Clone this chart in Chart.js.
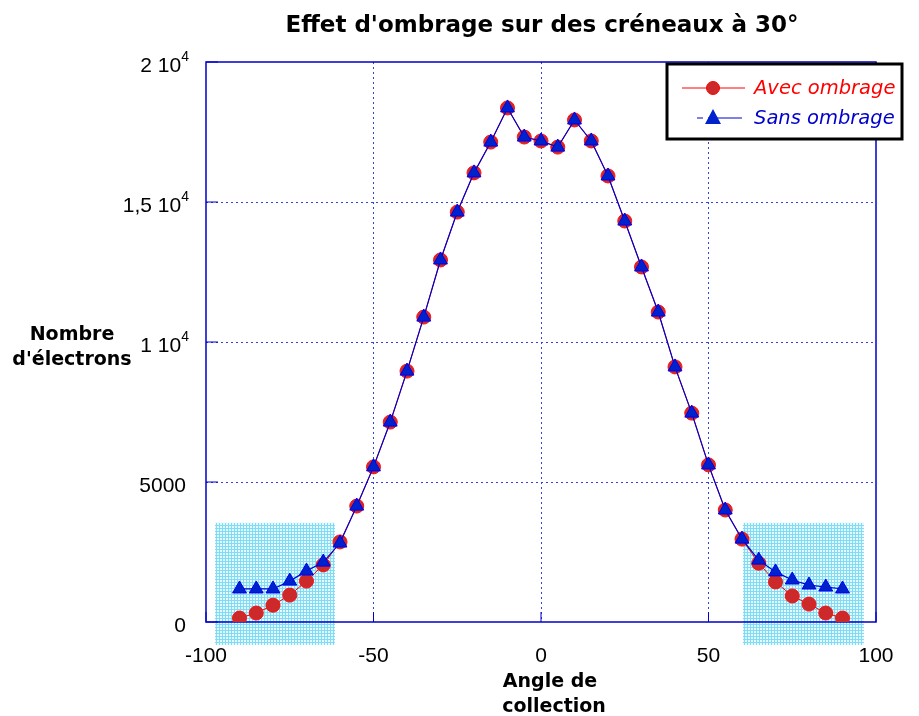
<!DOCTYPE html>
<html>
<head>
<meta charset="utf-8">
<script src="https://cdn.jsdelivr.net/npm/chart.js@4/dist/chart.umd.min.js"></script>
<style>
  html, body { margin: 0; padding: 0; background: #fff; }
  #wrap { width: 919px; height: 716px; }
</style>
</head>
<body>
<div id="wrap"><canvas id="graphe"></canvas></div>
<script>
// angles de collection (degres)
const angles = [-90,-85,-80,-75,-70,-65,-60,-55,-50,-45,-40,-35,-30,-25,-20,-15,-10,-5,0,
                5,10,15,20,25,30,35,40,45,50,55,60,65,70,75,80,85,90];
// nombre d'electrons
const avecOmbrage = [140,320,600,960,1460,2040,2860,4140,5540,7140,8960,10890,12930,14640,16040,17140,18360,17320,17180,
                     16960,17930,17180,15930,14320,12680,11070,9110,7460,5610,4000,2960,2100,1430,930,640,320,140];
const sansOmbrage = [1180,1180,1180,1460,1820,2140,2820,4140,5540,7140,8960,10890,12930,14640,16040,17140,18360,17320,17180,
                     16960,17930,17180,15930,14320,12680,11070,9110,7460,5610,4000,2960,2210,1790,1500,1320,1250,1180];
const ticksX = [-100,-50,0,50,100];
const ticksY = [0,5000,10000,15000,20000];
// etiquettes y : [texte, exposant]
const labelsY = {0:["0",""],5000:["5000",""],10000:["1 10","4"],15000:["1,5 10","4"],20000:["2 10","4"]};
// zones hachurees (x min, x max, y min, y max)
const zones = [[-97.3,-61.5,-820,3540],[60.3,96.4,-820,3540]];

const arial = "'Liberation Sans', Arial, sans-serif";
const verdana = "'DejaVu Sans', Verdana, sans-serif";

function pts(ys){
    return angles.map((a,i) => ({x:a, y:ys[i]}));
}

function motifHachure(){
    let c = document.createElement("canvas");
    c.width = 3; c.height = 3;
    let g = c.getContext("2d");
    g.fillStyle = "#e6f9ff";
    g.fillRect(0,0,3,3);
    g.fillStyle = "#7fdcf5";
    g.fillRect(0,0,3,1);
    g.fillRect(0,0,1,3);
    return c;
}

const decor = {
    id: "decor",
    beforeDatasetsDraw(chart){
        let ctx = chart.ctx;
        let sx = chart.scales.x, sy = chart.scales.y;
        let ca = chart.chartArea;
        ctx.save();
        ctx.fillStyle = ctx.createPattern(motifHachure(),"repeat");
        zones.forEach(z => {
            let x0 = sx.getPixelForValue(z[0]), x1 = sx.getPixelForValue(z[1]);
            let y0 = sy.getPixelForValue(z[3]), y1 = sy.getPixelForValue(z[2]);
            ctx.fillRect(x0,y0,x1-x0,y1-y0);
        });
        // cadre
        ctx.strokeStyle = "#0000cc";
        ctx.lineWidth = 1.5;
        ctx.strokeRect(ca.left,ca.top,ca.right-ca.left,ca.bottom-ca.top);
        // petites graduations
        ctx.lineWidth = 1;
        ticksX.forEach(t => {
            let px = sx.getPixelForValue(t);
            ctx.beginPath(); ctx.moveTo(px,ca.bottom); ctx.lineTo(px,ca.bottom-10); ctx.stroke();
        });
        ticksY.forEach(t => {
            let py = sy.getPixelForValue(t);
            ctx.beginPath(); ctx.moveTo(ca.left,py); ctx.lineTo(ca.left+12,py); ctx.stroke();
        });
        ctx.restore();
    },
    afterDraw(chart){
        let ctx = chart.ctx;
        let sy = chart.scales.y;
        ctx.save();
        ctx.fillStyle = "#000";

        // etiquettes de l'axe y avec exposant
        ctx.textBaseline = "alphabetic";
        ticksY.forEach(t => {
            let py = sy.getPixelForValue(t);
            let [txt, sup] = labelsY[t];
            if (sup) {
                ctx.font = "14px " + arial;
                let w = ctx.measureText(sup).width;
                ctx.textAlign = "left";
                ctx.fillText(sup, 189 - w, py - 1);
                ctx.font = "21px " + arial;
                ctx.textAlign = "right";
                ctx.fillText(txt, 189 - w, py + 10);
            } else {
                ctx.font = "21px " + arial;
                ctx.textAlign = "right";
                ctx.fillText(txt, 186, py + 10);
            }
        });

        ctx.textBaseline = "middle";
        ctx.textAlign = "center";
        ctx.font = "bold 23px " + verdana;
        ctx.fillText("Effet d'ombrage sur des cr\u00e9neaux \u00e0 30\u00b0", 542, 26);
        ctx.font = "bold 19px " + verdana;
        ctx.fillText("Nombre", 72, 335);
        ctx.fillText("d'\u00e9lectrons", 72, 360);
        ctx.fillText("Angle de", 550, 682);
        ctx.fillText("collection", 554, 707);

        // legende
        ctx.fillStyle = "#fff";
        ctx.fillRect(667,64,235,75);
        ctx.strokeStyle = "#000";
        ctx.lineWidth = 3;
        ctx.strokeRect(667,64,235,75);

        ctx.lineWidth = 1;
        ctx.strokeStyle = "#ff0000";
        ctx.beginPath(); ctx.moveTo(682,88); ctx.lineTo(745,88); ctx.stroke();
        ctx.fillStyle = "#cc2a2a";
        ctx.beginPath(); ctx.arc(713,88,6.5,0,Math.PI*2); ctx.fill();
        ctx.strokeStyle = "#ff0000"; ctx.stroke();

        ctx.strokeStyle = "#0000cc";
        ctx.beginPath(); ctx.moveTo(697,118); ctx.lineTo(703,118); ctx.moveTo(708,118); ctx.lineTo(742,118); ctx.stroke();
        ctx.fillStyle = "#0022cc";
        ctx.beginPath(); ctx.moveTo(713,109); ctx.lineTo(721,124); ctx.lineTo(705,124); ctx.closePath(); ctx.fill();

        ctx.textAlign = "left";
        ctx.font = "oblique 19.5px " + verdana;
        ctx.fillStyle = "#ff0000";
        ctx.fillText("Avec ombrage", 754, 89);
        ctx.fillStyle = "#0000cc";
        ctx.fillText("Sans ombrage", 754, 119);
        ctx.restore();
    }
};

function grille(ctx){
    let v = ctx.tick ? ctx.tick.value : null;
    if (v === -100 || v === 100 || v === 0 && ctx.scale.axis === "y" || v === 20000) return "rgba(0,0,0,0)";
    return "#3344dd";
}

new Chart("graphe", {
    type: "line",
    data: {
        datasets: [{
            label: "Avec ombrage",
            data: pts(avecOmbrage),
            borderColor: "#ff0000",
            borderWidth: 1,
            pointRadius: 7,
            pointBackgroundColor: "#cc2a2a",
            pointBorderColor: "#ff1010",
            pointBorderWidth: 1,
            order: 2
        },{
            label: "Sans ombrage",
            data: pts(sansOmbrage),
            borderColor: "#0000cc",
            borderWidth: 1.2,
            pointStyle: "triangle",
            pointRadius: 8,
            pointBackgroundColor: "#0022cc",
            pointBorderColor: "#0000ee",
            pointBorderWidth: 1,
            order: 1
        }]
    },
    options: {
        responsive: true,
        maintainAspectRatio: false,
        animation: false,
        layout: { padding: { top: 62, right: 43, left: 0, bottom: 0 } },
        plugins: {
            legend: { display: false },
            title: { display: false },
            tooltip: { enabled: false }
        },
        scales: {
            x: {
                type: "linear",
                min: -100, max: 100,
                afterBuildTicks: s => { s.ticks = ticksX.map(v => ({value:v})); },
                afterFit: s => { s.height = 94; },
                border: { display: false, dash: [2,3] },
                grid: { color: grille, lineWidth: 1, drawTicks: false },
                ticks: { color: "#000", font: { size: 21, family: arial }, padding: 22 }
            },
            y: {
                min: 0, max: 20000,
                afterBuildTicks: s => { s.ticks = ticksY.map(v => ({value:v})); },
                afterFit: s => { s.width = 206; },
                border: { display: false, dash: [2,3] },
                grid: { color: grille, lineWidth: 1, drawTicks: false },
                ticks: { display: false }
            }
        }
    },
    plugins: [decor]
});
</script>
</body>
</html>
